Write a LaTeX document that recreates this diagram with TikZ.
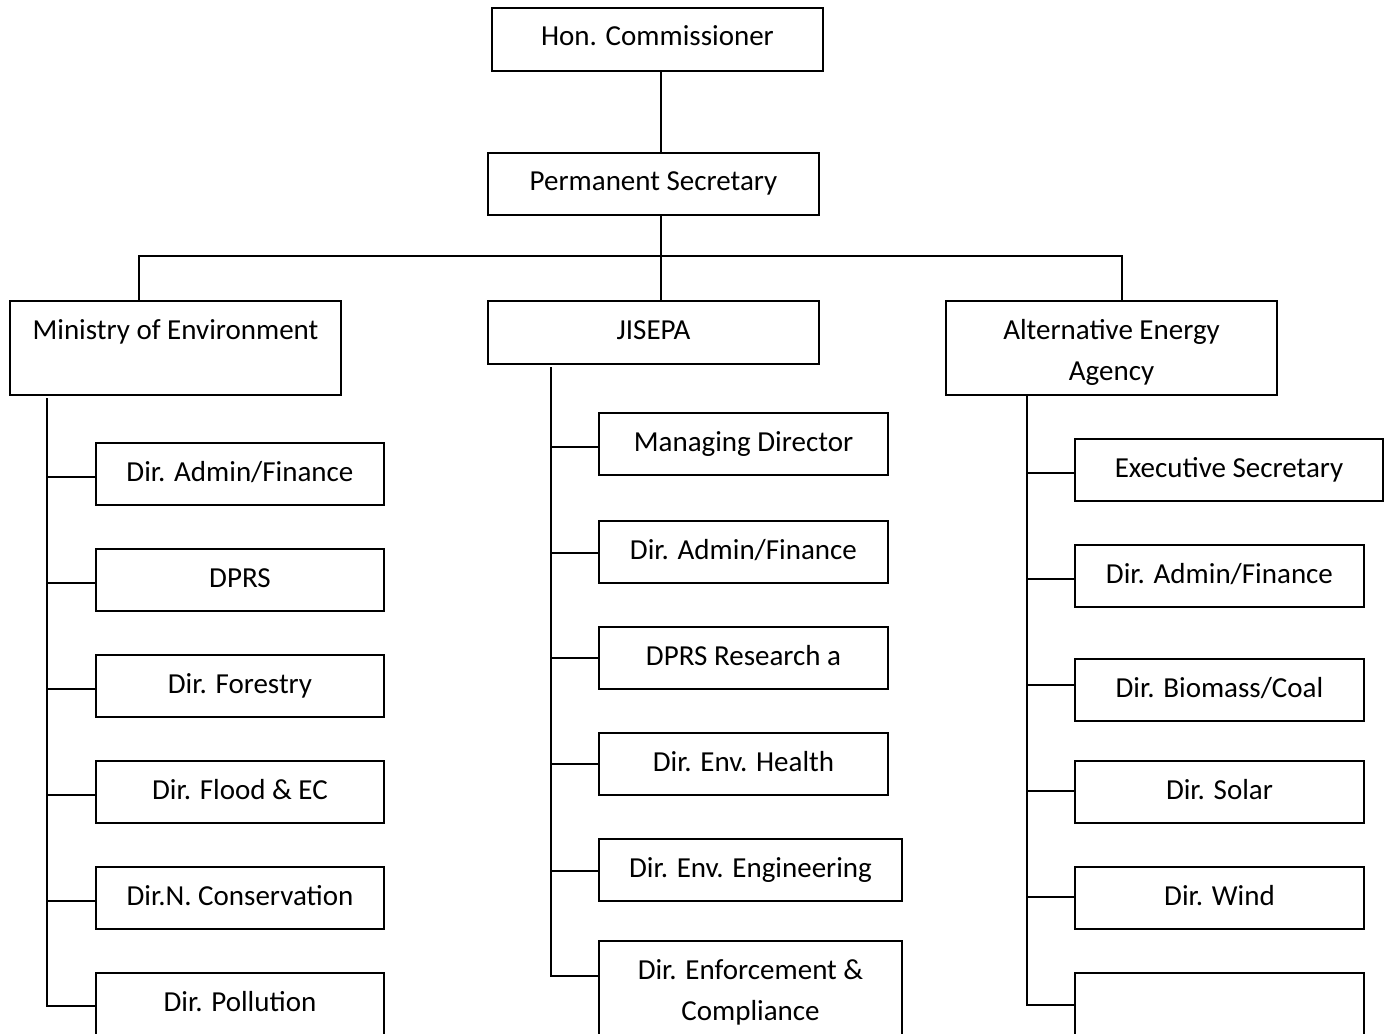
\documentclass[tikz,border=0pt]{standalone}
\usepackage{fontspec}
\setmainfont{Carlito}
\usetikzlibrary{calc}
\newcommand\lbfont{\fontsize{21.75pt}{30.75pt}\selectfont}
\tikzset{
  box/.style={draw=black, line width=1.5pt, inner sep=0pt, anchor=north west},
  lbl/.style={font=\lbfont, inner sep=0pt, align=center, anchor=base},
  link/.style={line width=1.5pt, line cap=rect},
  thicklink/.style={line width=2.2pt},
}
% box: name, x, y(top), width, height, text (one line)
\newcommand\mkbox[6]{%
  \node[box, minimum width=#4*0.75pt, minimum height=#5*0.75pt] (#1) at (#2,#3) {};
  \node[lbl] (#1-t) at ($(#1.north)+(0,39)$) {#6};
}
% box with two-line text (base anchor is the last line)
\newcommand\mkboxtwo[6]{%
  \node[box, minimum width=#4*0.75pt, minimum height=#5*0.75pt] (#1) at (#2,#3) {};
  \node[lbl] (#1-t) at ($(#1.north)+(0,80)$) {#6};
}
% stub: box, trunk coordinate, vertical offset, extra style
\newcommand\stub[4]{%
  \draw[link,#4] (#1.west) ++(0,#3) coordinate (s#1) -- (s#1 -| #2);
}
\begin{document}
\begin{tikzpicture}[x=0.75pt, y=-0.75pt]
\useasboundingbox (0,0) rectangle (1387,1034);
\clip (0,0) rectangle (1387,1034);

% top levels
\mkbox{hc}{491}{7}{331}{63}{Hon. Commissioner}
\mkbox{ps}{487}{152}{331}{62}{Permanent Secretary}
\mkbox{moe}{9}{300}{331}{94}{Ministry of Environment}
\mkbox{jis}{487}{300}{331}{63}{JISEPA}
\mkboxtwo{aea}{945}{300}{331}{94}{Alternative Energy\\Agency}

% Ministry column
\mkbox{m1}{95}{442}{288}{62}{Dir. Admin/Finance}
\mkbox{m2}{95}{548}{288}{62}{DPRS}
\mkbox{m3}{95}{654}{288}{62}{Dir. Forestry}
\mkbox{m4}{95}{760}{288}{62}{Dir. Flood \& EC}
\mkbox{m5}{95}{866}{288}{62}{Dir.N. Conservation}
\mkbox{m6}{95}{972}{288}{80}{Dir. Pollution}

% JISEPA column
\mkbox{j1}{598}{412}{289}{62}{Managing Director}
\mkbox{j2}{598}{520}{289}{62}{Dir. Admin/Finance}
\mkbox{j3}{598}{626}{289}{62}{DPRS Research a}
\mkbox{j4}{598}{732}{289}{62}{Dir. Env. Health}
\mkbox{j5}{598}{838}{303}{62}{Dir. Env. Engineering}
\mkboxtwo{j6}{598}{940}{303}{110}{Dir. Enforcement \&\\Compliance}

% Alternative Energy column
\mkbox{a1}{1074}{438}{308}{62}{Executive Secretary}
\mkbox{a2}{1074}{544}{289}{62}{Dir. Admin/Finance}
\mkbox{a3}{1074}{658}{289}{62}{Dir. Biomass/Coal}
\mkbox{a4}{1074}{760}{289}{62}{Dir. Solar}
\mkbox{a5}{1074}{866}{289}{62}{Dir. Wind}
\mkbox{a6}{1074}{972}{289}{80}{}

% upper connectors
\coordinate (axis) at (661,0);
\coordinate (barL) at (139,256);
\coordinate (barR) at (1122,256);
\draw[link] (hc.south -| axis) -- (ps.north -| axis);
\draw[link] (ps.south -| axis) -- (jis.north -| axis);
\draw[link] (moe.north -| barL) -- (barL) -- (barR) -- (aea.north -| barR);

% trunks
\coordinate (lt) at (47,399);
\coordinate (mt) at (551,368);
\coordinate (rt) at (1027,394);

\stub{m1}{lt}{3}{}
\stub{m2}{lt}{3}{}
\stub{m3}{lt}{3}{}
\stub{m4}{lt}{3}{thicklink}
\stub{m5}{lt}{3}{}
\stub{m6}{lt}{-7}{}
\draw[link] (lt) -- (sm6 -| lt);

\stub{j1}{mt}{3}{}
\stub{j2}{mt}{1}{}
\stub{j3}{mt}{0}{}
\stub{j4}{mt}{0}{}
\stub{j5}{mt}{1}{}
\stub{j6}{mt}{-20}{}
\draw[link] (mt) -- (sj6 -| mt);

\stub{a1}{rt}{3}{}
\stub{a2}{rt}{3}{}
\stub{a3}{rt}{-5}{thicklink}
\stub{a4}{rt}{-1}{}
\stub{a5}{rt}{-1}{}
\stub{a6}{rt}{-8}{thicklink}
\draw[link] (aea.south -| rt) -- (sa6 -| rt);
\end{tikzpicture}
\end{document}
